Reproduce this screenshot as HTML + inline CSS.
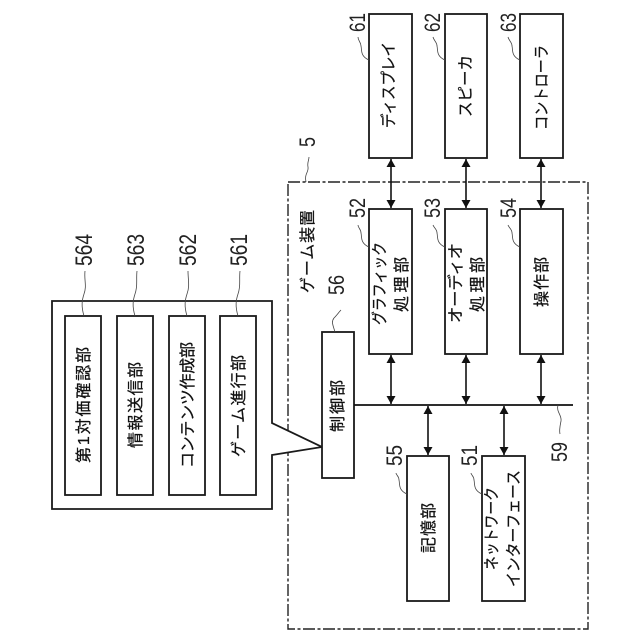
<!DOCTYPE html>
<html>
<head>
<meta charset="utf-8">
<style>
html,body{margin:0;padding:0;background:#fff}
svg{display:block}
.b{fill:#fff;stroke:#1a1a1a;stroke-width:1.8}
.l{fill:none;stroke:#444;stroke-width:.8}
.t{font-family:"Liberation Sans","Noto Sans CJK JP",sans-serif;font-size:16px;fill:#111;stroke:#111;stroke-width:.25;text-anchor:start}
.n{font-family:"Liberation Sans",sans-serif;font-size:22px;fill:#222;text-anchor:start}
.m{font-size:24px}
</style>
</head>
<body>
<svg width="640" height="640" viewBox="0 0 640 640" xmlns="http://www.w3.org/2000/svg">
<defs>
<marker id="a" markerWidth="8" markerHeight="9" refX="8" refY="4.5" orient="auto" markerUnits="userSpaceOnUse"><path d="M0 0L8 4.5L0 9z" fill="#111"/></marker>
<marker id="s" markerWidth="8" markerHeight="9" refX="0" refY="4.5" orient="auto" markerUnits="userSpaceOnUse"><path d="M8 0L0 4.5L8 9z" fill="#111"/></marker>
</defs>
<rect x="288" y="182" width="300" height="447" fill="none" stroke="#222" stroke-width="1.4" stroke-dasharray="12 2.5 3 2.5"/>
<path d="M52 301H272V423L322 447L272 455V509H52Z" class="b"/>
<rect class="b" x="65" y="316" width="36" height="179"/>
<rect class="b" x="117" y="316" width="36" height="179"/>
<rect class="b" x="169" y="316" width="36" height="179"/>
<rect class="b" x="220" y="316" width="36" height="179"/>
<rect class="b" x="369" y="14" width="43" height="144"/>
<rect class="b" x="445" y="14" width="42" height="144"/>
<rect class="b" x="520" y="14" width="43" height="144"/>
<rect class="b" x="369" y="209" width="43" height="145"/>
<rect class="b" x="445" y="209" width="42" height="145"/>
<rect class="b" x="520" y="209" width="43" height="145"/>
<rect class="b" x="322" y="332" width="32" height="146"/>
<rect class="b" x="407" y="456" width="42" height="145"/>
<rect class="b" x="482" y="456" width="43" height="145"/>
<path d="M354 405H573" stroke="#111" stroke-width="1.8" fill="none"/>
<g stroke="#111" stroke-width="1.6" fill="none">
<path d="M391 159V208" marker-start="url(#s)" marker-end="url(#a)"/>
<path d="M466 159V208" marker-start="url(#s)" marker-end="url(#a)"/>
<path d="M541 159V208" marker-start="url(#s)" marker-end="url(#a)"/>
<path d="M391 355V404" marker-start="url(#s)" marker-end="url(#a)"/>
<path d="M466 355V404" marker-start="url(#s)" marker-end="url(#a)"/>
<path d="M541 355V404" marker-start="url(#s)" marker-end="url(#a)"/>
<path d="M428 406V455" marker-start="url(#s)" marker-end="url(#a)"/>
<path d="M504 406V455" marker-start="url(#s)" marker-end="url(#a)"/>
</g>
<g class="l">
<path class="l" d="M369 60C360 56 362 50 361 46C361 42 358 41 358 37"/>
<path class="l" d="M445 60C436 56 438 50 437 46C437 42 434 41 433 37"/>
<path class="l" d="M520 60C511 56 513 50 512 46C512 42 509 41 508 37"/>
<path class="l" d="M369 247C360 243 362 237 361 233C361 229 358 228 358 225"/>
<path class="l" d="M445 247C436 243 438 237 437 233C437 229 434 228 433 225"/>
<path class="l" d="M520 247C511 243 513 237 512 233C512 229 509 228 508 225"/>
<path class="l" d="M407 494C398 490 400 484 399 480C399 476 396 475 396 473"/>
<path class="l" d="M482 494C473 490 475 484 474 480C474 476 471 475 471 473"/>
<path class="l" d="M306 182C304 174 309 172 308 167C307 163 309 160 309 157"/>
<path class="l" d="M335 332C333 325 331 322 334 318C337 315 339 312 341 310"/>
<path class="l" d="M558 405C556 412 562 415 561 421C560 426 559 430 560 434"/>
<path class="l" d="M84 316C81 306 82 300 84 294C87 286 84 280 85 271"/>
<path class="l" d="M135 316C132 306 133 300 135 294C138 286 136 280 137 271"/>
<path class="l" d="M187 316C184 306 185 300 187 294C190 286 188 280 188 271"/>
<path class="l" d="M238 316C235 306 236 300 238 294C241 286 239 280 240 271"/>
</g>
<g class="t">
<text transform="translate(394,128) rotate(-90)" textLength="86" lengthAdjust="spacingAndGlyphs">ディスプレイ</text>
<text transform="translate(471,117) rotate(-90)" textLength="62" lengthAdjust="spacingAndGlyphs">スピーカ</text>
<text transform="translate(547,130) rotate(-90)" textLength="85" lengthAdjust="spacingAndGlyphs">コントローラ</text>
<text transform="translate(385,325) rotate(-90)" textLength="83" lengthAdjust="spacingAndGlyphs">グラフィック</text>
<text transform="translate(407,312) rotate(-90)" textLength="55">処理部</text>
<text transform="translate(461,323) rotate(-90)" textLength="80" lengthAdjust="spacingAndGlyphs">オーディオ</text>
<text transform="translate(483,312) rotate(-90)" textLength="55">処理部</text>
<text transform="translate(547,307) rotate(-90)" textLength="50">操作部</text>
<text transform="translate(343,432) rotate(-90)" textLength="52">制御部</text>
<text transform="translate(434,553) rotate(-90)" textLength="50">記憶部</text>
<text transform="translate(497,570) rotate(-90)" textLength="83" lengthAdjust="spacingAndGlyphs">ネットワーク</text>
<text transform="translate(519,587) rotate(-90)" textLength="117" lengthAdjust="spacingAndGlyphs">インターフェース</text>
<text transform="translate(313,293) rotate(-90)" textLength="83">ゲーム装置</text>
<text transform="translate(89,463) rotate(-90)" textLength="116">第1対価確認部</text>
<text transform="translate(141,448) rotate(-90)" textLength="86">情報送信部</text>
<text transform="translate(193,468) rotate(-90)" textLength="126">コンテンツ作成部</text>
<text transform="translate(244,457) rotate(-90)" textLength="102">ゲーム進行部</text>
</g>
<g class="n">
<text transform="translate(365,32) rotate(-90)" textLength="19" lengthAdjust="spacingAndGlyphs">61</text>
<text transform="translate(440,32) rotate(-90)" textLength="19" lengthAdjust="spacingAndGlyphs">62</text>
<text transform="translate(516,32) rotate(-90)" textLength="19" lengthAdjust="spacingAndGlyphs">63</text>
<text transform="translate(315,147) rotate(-90)" textLength="10" lengthAdjust="spacingAndGlyphs">5</text>
<text transform="translate(365,218) rotate(-90)" textLength="20" lengthAdjust="spacingAndGlyphs">52</text>
<text transform="translate(440,218) rotate(-90)" textLength="20" lengthAdjust="spacingAndGlyphs">53</text>
<text transform="translate(516,218) rotate(-90)" textLength="20" lengthAdjust="spacingAndGlyphs">54</text>
<text transform="translate(344,295) rotate(-90)" textLength="20" lengthAdjust="spacingAndGlyphs">56</text>
<text transform="translate(402,466) rotate(-90)" textLength="21" lengthAdjust="spacingAndGlyphs">55</text>
<text transform="translate(477,466) rotate(-90)" textLength="21" lengthAdjust="spacingAndGlyphs">51</text>
<text transform="translate(567,462) rotate(-90)" textLength="20" lengthAdjust="spacingAndGlyphs">59</text>
<text class="m" transform="translate(92,266) rotate(-90)" textLength="32" lengthAdjust="spacingAndGlyphs">564</text>
<text class="m" transform="translate(144,266) rotate(-90)" textLength="32" lengthAdjust="spacingAndGlyphs">563</text>
<text class="m" transform="translate(196,266) rotate(-90)" textLength="32" lengthAdjust="spacingAndGlyphs">562</text>
<text class="m" transform="translate(247,266) rotate(-90)" textLength="32" lengthAdjust="spacingAndGlyphs">561</text>
</g>
</svg>
</body>
</html>
